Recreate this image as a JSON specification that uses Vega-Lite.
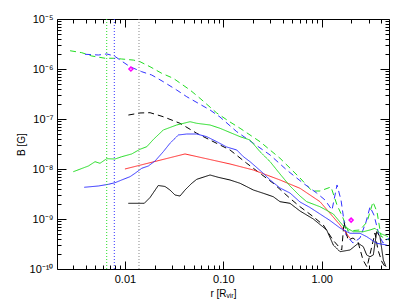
{
  "$schema": "https://vega.github.io/schema/vega-lite/v6.json",
  "width": 332,
  "height": 250,
  "autosize": {"type": "none"},
  "padding": {"left": 57, "top": 19, "right": 18, "bottom": 37},
  "background": "white",
  "config": {
    "view": {"stroke": null},
    "axis": {
      "grid": false,
      "ticks": true,
      "domainColor": "black",
      "domainWidth": 1,
      "tickColor": "black",
      "tickWidth": 1,
      "labelColor": "black",
      "titleColor": "black",
      "labelFont": "Liberation Sans",
      "titleFont": "Liberation Sans",
      "labelFontSize": 11,
      "titleFontSize": 10,
      "titleFontWeight": "normal",
      "labelOverlap": false,
      "labelFlush": false
    }
  },
  "datasets": {
    "lines": [
      {"s":"gd","r":0.00277,"B":2.32e-6},{"s":"gd","r":0.00364,"B":2.12e-6},{"s":"gd","r":0.0046,"B":1.82e-6},{"s":"gd","r":0.00628,"B":1.64e-6},{"s":"gd","r":0.00762,"B":1.64e-6},{"s":"gd","r":0.00927,"B":1.585e-6},{"s":"gd","r":0.01216,"B":1.51e-6},{"s":"gd","r":0.01423,"B":1.4e-6},{"s":"gd","r":0.018,"B":1.11e-6},{"s":"gd","r":0.02366,"B":8.2e-7},{"s":"gd","r":0.031,"B":6.52e-7},{"s":"gd","r":0.0459,"B":3.8e-7},{"s":"gd","r":0.058,"B":2.59e-7},{"s":"gd","r":0.0857,"B":1.32e-7},{"s":"gd","r":0.117,"B":8.71e-8},{"s":"gd","r":0.148,"B":6.52e-8},{"s":"gd","r":0.236,"B":3.52e-8},{"s":"gd","r":0.377,"B":1.64e-8},{"s":"gd","r":0.602,"B":6.61e-9},{"s":"gd","r":0.797,"B":3.63e-9},{"s":"gd","r":0.961,"B":3.63e-9},{"s":"gd","r":1.243,"B":4.37e-9},{"s":"gd","r":1.431,"B":1.905e-9},{"s":"gd","r":1.646,"B":1.047e-9},{"s":"gd","r":1.851,"B":5.75e-10},{"s":"gd","r":2.45,"B":6.03e-10},{"s":"gd","r":2.887,"B":8.71e-10},{"s":"gd","r":3.32,"B":2.19e-9},{"s":"gd","r":3.65,"B":1.38e-9},{"s":"gd","r":4.01,"B":4.5e-10},{"s":"gd","r":4.83,"B":3.8e-10},

      {"s":"bd","r":0.00393,"B":1.97e-6},{"s":"bd","r":0.00537,"B":1.905e-6},{"s":"bd","r":0.00653,"B":2.0e-6},{"s":"bd","r":0.0078,"B":1.82e-6},{"s":"bd","r":0.01,"B":1.3e-6},{"s":"bd","r":0.01127,"B":1.11e-6},{"s":"bd","r":0.01482,"B":8.83e-7},{"s":"bd","r":0.01871,"B":7.59e-7},{"s":"bd","r":0.02455,"B":5.57e-7},{"s":"bd","r":0.03357,"B":3.8e-7},{"s":"bd","r":0.0425,"B":2.79e-7},{"s":"bd","r":0.0733,"B":1.514e-7},{"s":"bd","r":0.0925,"B":1.096e-7},{"s":"bd","r":0.137,"B":5.57e-8},{"s":"bd","r":0.202,"B":3.27e-8},{"s":"bd","r":0.299,"B":1.905e-8},{"s":"bd","r":0.441,"B":9.55e-9},{"s":"bd","r":0.65,"B":5.18e-9},{"s":"bd","r":0.889,"B":3.31e-9},{"s":"bd","r":1.08,"B":2.4e-9},{"s":"bd","r":1.273,"B":1.514e-9},{"s":"bd","r":1.431,"B":4.79e-9},{"s":"bd","r":1.571,"B":2.4e-9},{"s":"bd","r":1.766,"B":4.79e-10},{"s":"bd","r":2.08,"B":3.31e-10},{"s":"bd","r":2.45,"B":4.17e-10},{"s":"bd","r":2.82,"B":8.71e-10},{"s":"bd","r":3.097,"B":1.74e-9},{"s":"bd","r":3.4,"B":1.2e-9},{"s":"bd","r":3.82,"B":4.79e-10},{"s":"bd","r":4.2,"B":3.31e-10},{"s":"bd","r":4.83,"B":4.17e-10},

      {"s":"kd","r":0.01084,"B":1.2e-7},{"s":"kd","r":0.01423,"B":1.32e-7},{"s":"kd","r":0.018,"B":1.337e-7},{"s":"kd","r":0.02455,"B":1.11e-7},{"s":"kd","r":0.0363,"B":8.2e-8},{"s":"kd","r":0.0537,"B":5.18e-8},{"s":"kd","r":0.0733,"B":3.8e-8},{"s":"kd","r":0.117,"B":2.4e-8},{"s":"kd","r":0.173,"B":1.3e-8},{"s":"kd","r":0.236,"B":8.2e-9},{"s":"kd","r":0.322,"B":5.18e-9},{"s":"kd","r":0.476,"B":2.59e-9},{"s":"kd","r":0.602,"B":1.76e-9},{"s":"kd","r":0.822,"B":1.11e-9},{"s":"kd","r":1.038,"B":7.59e-10},{"s":"kd","r":1.3,"B":3.8e-10},{"s":"kd","r":1.597,"B":2.4e-10},{"s":"kd","r":1.686,"B":8.71e-10},{"s":"kd","r":1.851,"B":3.8e-10},{"s":"kd","r":2.08,"B":4.17e-10},{"s":"kd","r":2.339,"B":3.47e-10},{"s":"kd","r":2.63,"B":1.514e-10},{"s":"kd","r":2.887,"B":1.096e-10},{"s":"kd","r":3.17,"B":2.4e-10},{"s":"kd","r":3.48,"B":5.25e-10},{"s":"kd","r":3.73,"B":2.4e-10},{"s":"kd","r":4.1,"B":1.38e-10},{"s":"kd","r":4.5,"B":1.047e-10},

      {"s":"ks","r":0.01084,"B":2.06e-9},{"s":"ks","r":0.01574,"B":2.06e-9},{"s":"ks","r":0.018,"B":2.69e-9},{"s":"ks","r":0.02183,"B":4.68e-9},{"s":"ks","r":0.02556,"B":4.47e-9},{"s":"ks","r":0.02871,"B":3.8e-9},{"s":"ks","r":0.03228,"B":3.02e-9},{"s":"ks","r":0.0363,"B":2.88e-9},{"s":"ks","r":0.0408,"B":3.8e-9},{"s":"ks","r":0.0478,"B":5.18e-9},{"s":"ks","r":0.0537,"B":6.22e-9},{"s":"ks","r":0.0733,"B":7.59e-9},{"s":"ks","r":0.0889,"B":6.82e-9},{"s":"ks","r":0.117,"B":6.03e-9},{"s":"ks","r":0.148,"B":5.18e-9},{"s":"ks","r":0.202,"B":3.8e-9},{"s":"ks","r":0.255,"B":3.27e-9},{"s":"ks","r":0.322,"B":2.79e-9},{"s":"ks","r":0.377,"B":2.22e-9},{"s":"ks","r":0.476,"B":2.06e-9},{"s":"ks","r":0.602,"B":1.445e-9},{"s":"ks","r":0.822,"B":1.0e-9},{"s":"ks","r":1.124,"B":6.03e-10},{"s":"ks","r":1.312,"B":3.02e-10},{"s":"ks","r":1.535,"B":2.22e-10},{"s":"ks","r":1.94,"B":2.4e-10},{"s":"ks","r":2.355,"B":3.27e-10},{"s":"ks","r":2.648,"B":2.79e-10},{"s":"ks","r":2.867,"B":1.905e-10},{"s":"ks","r":3.097,"B":1.76e-10},{"s":"ks","r":3.345,"B":1.905e-10},{"s":"ks","r":3.62,"B":5.57e-10},{"s":"ks","r":3.91,"B":4.43e-10},{"s":"ks","r":4.23,"B":1.514e-10},{"s":"ks","r":4.5,"B":1.11e-10},

      {"s":"rs","r":0.01,"B":1.0e-8},{"s":"rs","r":0.0408,"B":2.0e-8},{"s":"rs","r":0.117,"B":1.26e-8},{"s":"rs","r":0.202,"B":9.55e-9},{"s":"rs","r":0.377,"B":6.03e-9},{"s":"rs","r":0.602,"B":4.11e-9},{"s":"rs","r":0.961,"B":2.22e-9},{"s":"rs","r":1.214,"B":1.3e-9},{"s":"rs","r":1.535,"B":7.59e-10},{"s":"rs","r":1.94,"B":4.11e-10},

      {"s":"gs","r":0.00299,"B":8.83e-9},{"s":"gs","r":0.00425,"B":1.148e-8},{"s":"gs","r":0.00497,"B":1.4e-8},{"s":"gs","r":0.00558,"B":1.3e-8},{"s":"gs","r":0.00653,"B":1.607e-8},{"s":"gs","r":0.00793,"B":1.585e-8},{"s":"gs","r":0.00927,"B":1.76e-8},{"s":"gs","r":0.01173,"B":2.0e-8},{"s":"gs","r":0.01423,"B":2.48e-8},{"s":"gs","r":0.01667,"B":2.79e-8},{"s":"gs","r":0.01945,"B":3.89e-8},{"s":"gs","r":0.02455,"B":6.03e-8},{"s":"gs","r":0.03357,"B":7.59e-8},{"s":"gs","r":0.0459,"B":8.83e-8},{"s":"gs","r":0.0537,"B":8.2e-8},{"s":"gs","r":0.0733,"B":7.59e-8},{"s":"gs","r":0.0925,"B":6.52e-8},{"s":"gs","r":0.117,"B":5.37e-8},{"s":"gs","r":0.148,"B":4.43e-8},{"s":"gs","r":0.187,"B":3.8e-8},{"s":"gs","r":0.236,"B":2.22e-8},{"s":"gs","r":0.299,"B":1.4e-8},{"s":"gs","r":0.377,"B":7.94e-9},{"s":"gs","r":0.476,"B":4.57e-9},{"s":"gs","r":0.602,"B":2.88e-9},{"s":"gs","r":0.704,"B":2.22e-9},{"s":"gs","r":0.961,"B":1.76e-9},{"s":"gs","r":1.312,"B":1.259e-9},{"s":"gs","r":1.658,"B":7.24e-10},{"s":"gs","r":2.095,"B":5.57e-10},{"s":"gs","r":2.648,"B":5.57e-10},{"s":"gs","r":3.097,"B":6.03e-10},{"s":"gs","r":3.48,"B":6.52e-10},{"s":"gs","r":3.91,"B":5.18e-10},{"s":"gs","r":4.72,"B":4.43e-10},

      {"s":"bs","r":0.00386,"B":4.31e-9},{"s":"bs","r":0.00537,"B":4.57e-9},{"s":"bs","r":0.00678,"B":4.94e-9},{"s":"bs","r":0.00793,"B":5.32e-9},{"s":"bs","r":0.00927,"B":6.03e-9},{"s":"bs","r":0.01127,"B":7.02e-9},{"s":"bs","r":0.01267,"B":8.2e-9},{"s":"bs","r":0.01482,"B":1.033e-8},{"s":"bs","r":0.01729,"B":1.148e-8},{"s":"bs","r":0.02023,"B":1.445e-8},{"s":"bs","r":0.02455,"B":2.22e-8},{"s":"bs","r":0.02871,"B":3.27e-8},{"s":"bs","r":0.0349,"B":4.79e-8},{"s":"bs","r":0.0425,"B":5.01e-8},{"s":"bs","r":0.0537,"B":5.01e-8},{"s":"bs","r":0.0678,"B":4.43e-8},{"s":"bs","r":0.0857,"B":3.52e-8},{"s":"bs","r":0.1084,"B":2.75e-8},{"s":"bs","r":0.137,"B":2.4e-8},{"s":"bs","r":0.16,"B":1.76e-8},{"s":"bs","r":0.187,"B":1.4e-8},{"s":"bs","r":0.255,"B":8.2e-9},{"s":"bs","r":0.299,"B":6.03e-9},{"s":"bs","r":0.377,"B":4.17e-9},{"s":"bs","r":0.476,"B":3.31e-9},{"s":"bs","r":0.602,"B":2.19e-9},{"s":"bs","r":0.76,"B":1.7e-9},{"s":"bs","r":0.961,"B":1.259e-9},{"s":"bs","r":1.214,"B":9.33e-10},{"s":"bs","r":1.535,"B":6.61e-10},{"s":"bs","r":1.94,"B":5.18e-10},{"s":"bs","r":2.45,"B":5.18e-10},{"s":"bs","r":2.867,"B":4.43e-10},{"s":"bs","r":3.62,"B":3.27e-10},{"s":"bs","r":4.58,"B":3.02e-10}
    ],
    "vlines": [
      {"r": 0.00653, "c": "#22dd22"},
      {"r": 0.0078, "c": "#3333ff"},
      {"r": 0.0139, "c": "#888888"}
    ],
    "pts": [
      {"r": 0.0115, "B": 1.0e-6},
      {"r": 1.99, "B": 9.5e-10}
    ]
  },
  "resolve": {"axis": {"x": "independent", "y": "independent"}},
  "layer": [
    {
      "data": {"name": "lines"},
      "mark": {"type": "line", "strokeWidth": 1, "clip": true},
      "encoding": {
        "x": {
          "field": "r", "type": "quantitative",
          "scale": {"type": "log", "domain": [0.00204, 4.83], "nice": false},
          "axis": {
            "orient": "bottom",
            "title": "r [Rᵥᵢᵣ]",
            "titlePadding": 4,
            "labelPadding": 12,
            "values": [0.01, 0.1, 1],
            "format": ".2f",
            "tickSize": -8
          }
        },
        "y": {
          "field": "B", "type": "quantitative",
          "scale": {"type": "log", "domain": [1e-10, 1e-5], "nice": false},
          "axis": {
            "orient": "left",
            "title": "B [G]",
            "titleX": -31,
            "labelPadding": 13,
            "values": [1e-10, 1e-9, 1e-8, 1e-7, 1e-6, 1e-5],
            "labelExpr": "round(log(datum.value)/LN10) == -5 ? '10⁻⁵' : round(log(datum.value)/LN10) == -6 ? '10⁻⁶' : round(log(datum.value)/LN10) == -7 ? '10⁻⁷' : round(log(datum.value)/LN10) == -8 ? '10⁻⁸' : round(log(datum.value)/LN10) == -9 ? '10⁻⁹' : '10⁻¹⁰'",
            "tickSize": -9
          }
        },
        "color": {
          "field": "s", "type": "nominal", "legend": null,
          "scale": {"domain": ["gd","bd","kd","ks","rs","gs","bs"], "range": ["#22dd22","#3333ff","#000000","#000000","#ff2a2a","#22dd22","#3333ff"]}
        },
        "strokeDash": {
          "field": "s", "type": "nominal", "legend": null,
          "scale": {"domain": ["gd","bd","kd","ks","rs","gs","bs"], "range": [[6,4],[6,4],[6,4],[1,0],[1,0],[1,0],[1,0]]}
        }
      }
    },
    {
      "data": {"name": "vlines"},
      "mark": {"type": "rule", "strokeWidth": 1, "strokeDash": [1, 2]},
      "encoding": {
        "x": {
          "field": "r", "type": "quantitative",
          "axis": {"orient": "top", "title": null, "labels": false, "values": [0.01, 0.1, 1], "tickSize": -8}
        },
        "color": {"field": "c", "type": "nominal", "scale": null}
      }
    },
    {
      "data": {"name": "pts"},
      "mark": {"type": "point", "shape": "diamond", "filled": false, "stroke": "#ff00ff", "strokeWidth": 1.5, "size": 16, "opacity": 1},
      "encoding": {
        "x": {"field": "r", "type": "quantitative", "axis": null},
        "y": {
          "field": "B", "type": "quantitative",
          "axis": {"orient": "right", "title": null, "labels": false, "values": [1e-10, 1e-9, 1e-8, 1e-7, 1e-6, 1e-5], "tickSize": -9}
        }
      }
    },
    {
      "data": {"name": "pts"},
      "mark": {"type": "point", "opacity": 0},
      "encoding": {
        "x": {
          "field": "r", "type": "quantitative",
          "axis": {"orient": "bottom", "title": null, "labels": false, "domain": false, "tickSize": -4,
            "values": [0.003,0.004,0.005,0.006,0.007,0.008,0.009,0.02,0.03,0.04,0.05,0.06,0.07,0.08,0.09,0.2,0.3,0.4,0.5,0.6,0.7,0.8,0.9,2,3,4]}
        },
        "y": {
          "field": "B", "type": "quantitative",
          "axis": {"orient": "left", "title": null, "labels": false, "domain": false, "tickSize": -4,
            "values": [2e-10,3e-10,4e-10,5e-10,6e-10,7e-10,8e-10,9e-10,2e-9,3e-9,4e-9,5e-9,6e-9,7e-9,8e-9,9e-9,2e-8,3e-8,4e-8,5e-8,6e-8,7e-8,8e-8,9e-8,2e-7,3e-7,4e-7,5e-7,6e-7,7e-7,8e-7,9e-7,2e-6,3e-6,4e-6,5e-6,6e-6,7e-6,8e-6,9e-6]}
        }
      }
    },
    {
      "data": {"name": "pts"},
      "mark": {"type": "point", "opacity": 0},
      "encoding": {
        "x": {
          "field": "r", "type": "quantitative",
          "axis": {"orient": "top", "title": null, "labels": false, "domain": false, "tickSize": -4,
            "values": [0.003,0.004,0.005,0.006,0.007,0.008,0.009,0.02,0.03,0.04,0.05,0.06,0.07,0.08,0.09,0.2,0.3,0.4,0.5,0.6,0.7,0.8,0.9,2,3,4]}
        },
        "y": {
          "field": "B", "type": "quantitative",
          "axis": {"orient": "right", "title": null, "labels": false, "domain": false, "tickSize": -4,
            "values": [2e-10,3e-10,4e-10,5e-10,6e-10,7e-10,8e-10,9e-10,2e-9,3e-9,4e-9,5e-9,6e-9,7e-9,8e-9,9e-9,2e-8,3e-8,4e-8,5e-8,6e-8,7e-8,8e-8,9e-8,2e-7,3e-7,4e-7,5e-7,6e-7,7e-7,8e-7,9e-7,2e-6,3e-6,4e-6,5e-6,6e-6,7e-6,8e-6,9e-6]}
        }
      }
    }
  ]
}
